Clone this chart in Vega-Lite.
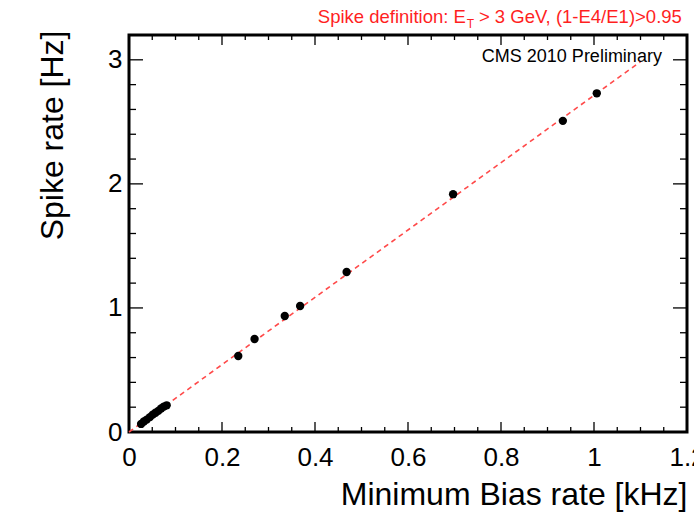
{
  "$schema": "https://vega.github.io/schema/vega-lite/v6.json",
  "width": 558,
  "height": 397,
  "autosize": "none",
  "padding": {"left": 129, "top": 35, "right": 7, "bottom": 81},
  "background": "white",
  "config": {
    "font": "Liberation Sans",
    "view": {"stroke": "black", "strokeWidth": 3},
    "axis": {"domain": false, "ticks": false, "grid": false, "labelColor": "black", "titleColor": "black", "labelFont": "Liberation Sans", "titleFont": "Liberation Sans", "titleFontWeight": "normal"}
  },
  "datasets": {
    "pts": [
      {"x": 0.026, "y": 0.065},
      {"x": 0.032, "y": 0.085},
      {"x": 0.038, "y": 0.1},
      {"x": 0.045, "y": 0.12},
      {"x": 0.051, "y": 0.14},
      {"x": 0.057, "y": 0.155},
      {"x": 0.063, "y": 0.17},
      {"x": 0.069, "y": 0.19},
      {"x": 0.075, "y": 0.205},
      {"x": 0.081, "y": 0.215},
      {"x": 0.235, "y": 0.613},
      {"x": 0.27, "y": 0.75},
      {"x": 0.335, "y": 0.935},
      {"x": 0.368, "y": 1.016},
      {"x": 0.468, "y": 1.29},
      {"x": 0.697, "y": 1.917},
      {"x": 0.933, "y": 2.508},
      {"x": 1.006, "y": 2.73}
    ],
    "fit": [
      {"x": 0, "y": 0},
      {"x": 1.1, "y": 2.985}
    ],
    "one": [{"k": 1}],
    "xmaj": [{"v": 0.2}, {"v": 0.4}, {"v": 0.6}, {"v": 0.8}, {"v": 1.0}],
    "xmin": [{"v": 0.05}, {"v": 0.1}, {"v": 0.15}, {"v": 0.25}, {"v": 0.3}, {"v": 0.35}, {"v": 0.45}, {"v": 0.5}, {"v": 0.55}, {"v": 0.65}, {"v": 0.7}, {"v": 0.75}, {"v": 0.85}, {"v": 0.9}, {"v": 0.95}, {"v": 1.05}, {"v": 1.1}, {"v": 1.15}],
    "ymaj": [{"v": 1}, {"v": 2}, {"v": 3}],
    "ymin": [{"v": 0.2}, {"v": 0.4}, {"v": 0.6}, {"v": 0.8}, {"v": 1.2}, {"v": 1.4}, {"v": 1.6}, {"v": 1.8}, {"v": 2.2}, {"v": 2.4}, {"v": 2.6}, {"v": 2.8}]
  },
  "resolve": {"axis": {"x": "independent", "y": "independent"}},
  "layer": [
    {
      "data": {"name": "xmaj"},
      "mark": {"type": "rule", "color": "black", "strokeWidth": 1.3},
      "encoding": {
        "x": {"field": "v", "type": "quantitative", "scale": {"domain": [0, 1.2], "nice": false, "zero": false}, "axis": null},
        "y": {"datum": 0, "type": "quantitative", "scale": {"domain": [0, 3.2], "nice": false, "zero": false}, "axis": null},
        "y2": {"datum": 0.0806}
      }
    },
    {
      "data": {"name": "xmaj"},
      "mark": {"type": "rule", "color": "black", "strokeWidth": 1.3},
      "encoding": {
        "x": {"field": "v", "type": "quantitative", "scale": {"domain": [0, 1.2], "nice": false, "zero": false}, "axis": null},
        "y": {"datum": 3.2, "type": "quantitative", "scale": {"domain": [0, 3.2], "nice": false, "zero": false}, "axis": null},
        "y2": {"datum": 3.1194}
      }
    },
    {
      "data": {"name": "xmin"},
      "mark": {"type": "rule", "color": "black", "strokeWidth": 1.3},
      "encoding": {
        "x": {"field": "v", "type": "quantitative", "scale": {"domain": [0, 1.2], "nice": false, "zero": false}, "axis": null},
        "y": {"datum": 0, "type": "quantitative", "scale": {"domain": [0, 3.2], "nice": false, "zero": false}, "axis": null},
        "y2": {"datum": 0.0403}
      }
    },
    {
      "data": {"name": "xmin"},
      "mark": {"type": "rule", "color": "black", "strokeWidth": 1.3},
      "encoding": {
        "x": {"field": "v", "type": "quantitative", "scale": {"domain": [0, 1.2], "nice": false, "zero": false}, "axis": null},
        "y": {"datum": 3.2, "type": "quantitative", "scale": {"domain": [0, 3.2], "nice": false, "zero": false}, "axis": null},
        "y2": {"datum": 3.1597}
      }
    },
    {
      "data": {"name": "ymaj"},
      "mark": {"type": "rule", "color": "black", "strokeWidth": 1.3},
      "encoding": {
        "y": {"field": "v", "type": "quantitative", "scale": {"domain": [0, 3.2], "nice": false, "zero": false}, "axis": null},
        "x": {"datum": 0, "type": "quantitative", "scale": {"domain": [0, 1.2], "nice": false, "zero": false}, "axis": null},
        "x2": {"datum": 0.0301}
      }
    },
    {
      "data": {"name": "ymaj"},
      "mark": {"type": "rule", "color": "black", "strokeWidth": 1.3},
      "encoding": {
        "y": {"field": "v", "type": "quantitative", "scale": {"domain": [0, 3.2], "nice": false, "zero": false}, "axis": null},
        "x": {"datum": 1.2, "type": "quantitative", "scale": {"domain": [0, 1.2], "nice": false, "zero": false}, "axis": null},
        "x2": {"datum": 1.1699}
      }
    },
    {
      "data": {"name": "ymin"},
      "mark": {"type": "rule", "color": "black", "strokeWidth": 1.3},
      "encoding": {
        "y": {"field": "v", "type": "quantitative", "scale": {"domain": [0, 3.2], "nice": false, "zero": false}, "axis": null},
        "x": {"datum": 0, "type": "quantitative", "scale": {"domain": [0, 1.2], "nice": false, "zero": false}, "axis": null},
        "x2": {"datum": 0.01505}
      }
    },
    {
      "data": {"name": "ymin"},
      "mark": {"type": "rule", "color": "black", "strokeWidth": 1.3},
      "encoding": {
        "y": {"field": "v", "type": "quantitative", "scale": {"domain": [0, 3.2], "nice": false, "zero": false}, "axis": null},
        "x": {"datum": 1.2, "type": "quantitative", "scale": {"domain": [0, 1.2], "nice": false, "zero": false}, "axis": null},
        "x2": {"datum": 1.18495}
      }
    },
    {
      "data": {"name": "fit"},
      "mark": {"type": "line", "color": "#ff4a4a", "strokeWidth": 1.6, "strokeDash": [5, 4]},
      "encoding": {
        "x": {"field": "x", "type": "quantitative", "scale": {"domain": [0, 1.2], "nice": false, "zero": false},
          "axis": {"orient": "bottom", "values": [0, 0.2, 0.4, 0.6, 0.8, 1, 1.2], "labelPadding": 12, "labelFontSize": 26, "labelFlush": false, "labelOverlap": false, "format": "~g",
            "title": "Minimum Bias rate [kHz]", "titleFontSize": 32, "titleAnchor": "end", "titleAlign": "right", "titleBaseline": "alphabetic", "titleX": 558, "titleY": 72}},
        "y": {"field": "y", "type": "quantitative", "scale": {"domain": [0, 3.2], "nice": false, "zero": false},
          "axis": {"orient": "left", "values": [0, 1, 2, 3], "labelPadding": 7, "labelFontSize": 26, "labelFlush": false, "labelOverlap": false, "labelBaseline": "middle", "format": "~g",
            "title": "Spike rate [Hz]", "titleFontSize": 32, "titleAnchor": "end", "titleAngle": 270, "titleAlign": "right", "titleBaseline": "alphabetic", "titleX": -67, "titleY": -5}}
      }
    },
    {
      "data": {"name": "pts"},
      "mark": {"type": "circle", "color": "black", "opacity": 1, "size": 70},
      "encoding": {
        "x": {"field": "x", "type": "quantitative", "scale": {"domain": [0, 1.2], "nice": false, "zero": false}, "axis": null},
        "y": {"field": "y", "type": "quantitative", "scale": {"domain": [0, 3.2], "nice": false, "zero": false}, "axis": null}
      }
    },
    {
      "data": {"name": "one"},
      "mark": {"type": "text", "text": "CMS 2010 Preliminary", "fontSize": 18, "align": "right", "baseline": "alphabetic", "color": "black"},
      "encoding": {
        "x": {"datum": 1.146, "type": "quantitative", "scale": {"domain": [0, 1.2], "nice": false, "zero": false}, "axis": null},
        "y": {"datum": 2.984, "type": "quantitative", "scale": {"domain": [0, 3.2], "nice": false, "zero": false}, "axis": null}
      }
    },
    {
      "data": {"name": "one"},
      "mark": {"type": "text", "text": "Spike definition: E", "fontSize": 18.5, "align": "right", "baseline": "alphabetic", "color": "#ff1f1f"},
      "encoding": {
        "x": {"datum": 0.7245, "type": "quantitative", "scale": {"domain": [0, 1.2], "nice": false, "zero": false}, "axis": null},
        "y": {"datum": 3.298, "type": "quantitative", "scale": {"domain": [0, 3.2], "nice": false, "zero": false}, "axis": null}
      }
    },
    {
      "data": {"name": "one"},
      "mark": {"type": "text", "text": "T", "fontSize": 12, "align": "left", "baseline": "alphabetic", "color": "#ff1f1f"},
      "encoding": {
        "x": {"datum": 0.7265, "type": "quantitative", "scale": {"domain": [0, 1.2], "nice": false, "zero": false}, "axis": null},
        "y": {"datum": 3.255, "type": "quantitative", "scale": {"domain": [0, 3.2], "nice": false, "zero": false}, "axis": null}
      }
    },
    {
      "data": {"name": "one"},
      "mark": {"type": "text", "text": "> 3 GeV, (1-E4/E1)>0.95", "fontSize": 18.5, "align": "left", "baseline": "alphabetic", "color": "#ff1f1f"},
      "encoding": {
        "x": {"datum": 0.7525, "type": "quantitative", "scale": {"domain": [0, 1.2], "nice": false, "zero": false}, "axis": null},
        "y": {"datum": 3.298, "type": "quantitative", "scale": {"domain": [0, 3.2], "nice": false, "zero": false}, "axis": null}
      }
    }
  ]
}
